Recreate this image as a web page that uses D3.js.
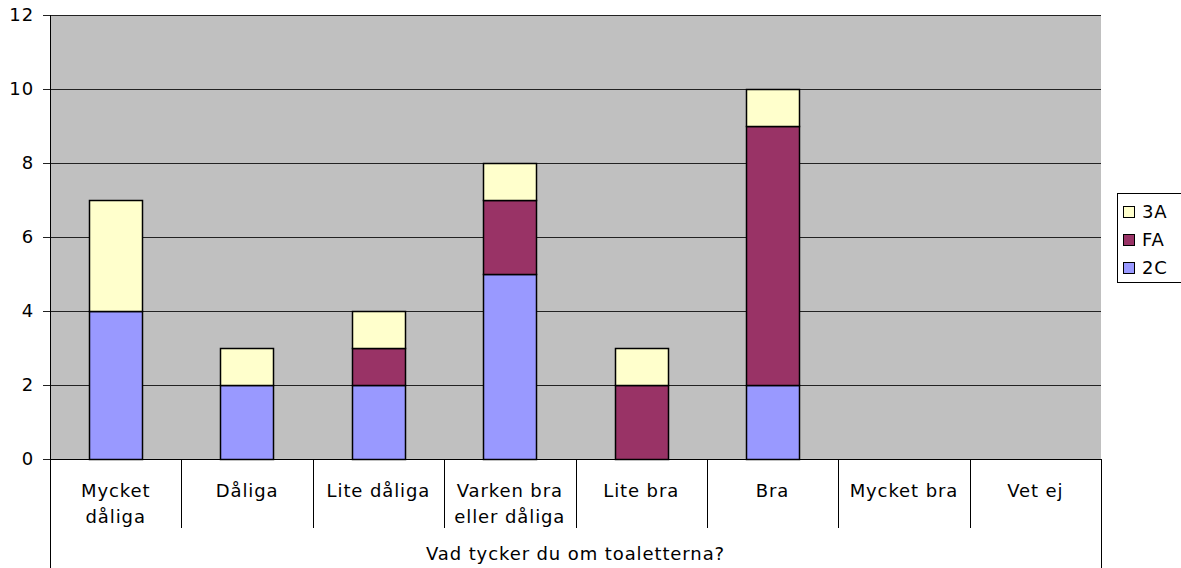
<!DOCTYPE html>
<html><head><meta charset="utf-8">
<script src="https://cdn.jsdelivr.net/npm/d3@7"></script>
<style>body{margin:0;background:#fff}svg{display:block}text{font-family:"DejaVu Sans",Verdana,sans-serif;fill:#000;letter-spacing:0.9px}</style>
</head><body><svg id="c" width="1181" height="568"></svg>
<script>
const categories = [["Mycket","dåliga"],["Dåliga"],["Lite dåliga"],["Varken bra","eller dåliga"],["Lite bra"],["Bra"],["Mycket bra"],["Vet ej"]];
const seriesNames = ["2C","FA","3A"];
const values2C = [4,2,2,5,0,2,0,0];
const valuesFA = [0,0,1,2,2,7,0,0];
const values3A = [3,1,1,1,1,1,0,0];
const colors = ["#9999FF","#993366","#FFFFCC"];
const yTicks = [0,2,4,6,8,10,12];
const axisTitle = "Vad tycker du om toaletterna?";

const svg = d3.select("#c");
const L=50, R=1101, T=15, B=459;
const FS=18;
const keys = categories.map((c,i)=>"c"+i);
const x = d3.scaleBand().domain(keys).range([L,R]).paddingInner(0.595).paddingOuter(0.2975);
const xs = d3.scaleBand().domain(keys).range([L,R]);
const y = d3.scaleLinear().domain([0,12]).range([B,T]);

svg.append("rect").attr("x",L).attr("y",T).attr("width",R-L).attr("height",B-T).attr("fill","#C0C0C0");
// grid
svg.append("g").selectAll("line").data(yTicks).join("line")
 .attr("x1",L-7).attr("x2",R).attr("y1",d=>Math.round(y(d))+0.5).attr("y2",d=>Math.round(y(d))+0.5)
 .attr("stroke","#222").attr("stroke-width",1);
svg.append("g").selectAll("text").data(yTicks).join("text")
 .attr("x",L-16).attr("y",d=>y(d)).attr("dy","0.36em").attr("text-anchor","end").attr("font-size",FS).text(d=>d);

const table = keys.map((k,i)=>({key:k,"2C":values2C[i],"FA":valuesFA[i],"3A":values3A[i]}));
const stacked = d3.stack().keys(seriesNames)(table);
stacked.forEach((s,si)=>{
  svg.append("g").selectAll("rect").data(s.filter(d=>d[1]-d[0]>0)).join("rect")
   .attr("x",d=>Math.round(x(d.data.key))+0.5).attr("width",Math.round(x.bandwidth()))
   .attr("y",d=>Math.round(y(d[1]))+0.5).attr("height",d=>Math.round(y(d[0]))-Math.round(y(d[1])))
   .attr("fill",colors[si]).attr("stroke","#000").attr("stroke-width",1.5);
});
// axes lines
svg.append("line").attr("x1",L+0.5).attr("x2",L+0.5).attr("y1",T).attr("y2",568).attr("stroke","#000");
svg.append("line").attr("x1",L).attr("x2",R).attr("y1",B+0.5).attr("y2",B+0.5).attr("stroke","#000");
svg.append("line").attr("x1",R+0.5).attr("x2",R+0.5).attr("y1",B).attr("y2",568).attr("stroke","#000");
svg.append("g").selectAll("line").data(keys.slice(1)).join("line")
 .attr("x1",d=>Math.round(xs(d))+0.5).attr("x2",d=>Math.round(xs(d))+0.5).attr("y1",B).attr("y2",528).attr("stroke","#000");
// category labels
const lab = svg.append("g").selectAll("text").data(categories).join("text")
 .attr("text-anchor","middle").attr("font-size",FS)
 .attr("x",(d,i)=>xs(keys[i])+xs.bandwidth()/2).attr("y",497);
lab.selectAll("tspan").data(d=>d).join("tspan")
 .attr("x",function(){return this.parentNode.getAttribute("x");})
 .attr("dy",(d,i)=>i?26:0).text(d=>d);
svg.append("text").attr("x",(L+R)/2).attr("y",560).attr("text-anchor","middle").attr("font-size",FS).text(axisTitle);

// legend
const lg = svg.append("g");
lg.append("rect").attr("x",1117.5).attr("y",193.5).attr("width",70).attr("height",89).attr("fill","#fff").attr("stroke","#000");
const legOrder = [2,1,0];
legOrder.forEach((si,j)=>{
  const cy = 212 + j*28;
  lg.append("rect").attr("x",1123.5).attr("y",cy-5.5).attr("width",11).attr("height",11).attr("fill",colors[si]).attr("stroke","#000");
  lg.append("text").attr("x",1142).attr("y",cy).attr("dy","0.36em").attr("font-size",FS).text(seriesNames[si]);
});
</script></body></html>
